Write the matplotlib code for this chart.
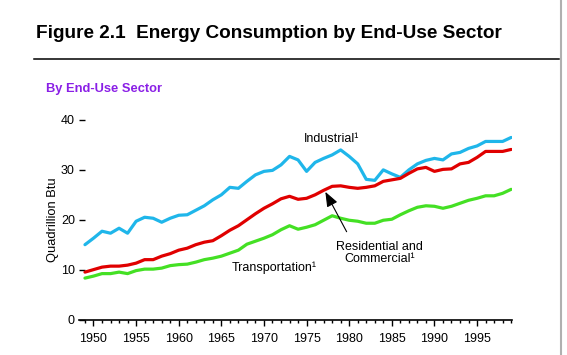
import numpy as np
import matplotlib.pyplot as plt
from matplotlib.lines import Line2D

plt.rcParams['font.family'] = ['Liberation Sans', 'DejaVu Sans']

years = np.arange(1949, 2000)

# quadrillion Btu
industrial = [15.0, 16.3, 17.7, 17.3, 18.3, 17.3, 19.7, 20.5, 20.3, 19.5,
              20.3, 20.9, 21.0, 21.9, 22.8, 24.0, 25.0, 26.5, 26.3, 27.7,
              29.0, 29.7, 29.9, 31.0, 32.7, 32.0, 29.7, 31.5, 32.3, 33.0,
              34.0, 32.7, 31.2, 28.1, 27.9, 30.0, 29.2, 28.5, 30.0, 31.2,
              31.9, 32.3, 32.0, 33.2, 33.5, 34.3, 34.8, 35.7, 35.7, 35.7,
              36.5]
res_comm = [9.5, 10.0, 10.5, 10.7, 10.7, 10.9, 11.3, 12.0, 12.0, 12.7,
            13.2, 13.9, 14.3, 15.0, 15.5, 15.8, 16.8, 17.9, 18.8, 20.0,
            21.2, 22.3, 23.2, 24.2, 24.7, 24.1, 24.3, 25.0, 25.9, 26.7,
            26.8, 26.5, 26.3, 26.5, 26.8, 27.7, 28.0, 28.3, 29.3, 30.2,
            30.5, 29.7, 30.1, 30.2, 31.2, 31.5, 32.5, 33.7, 33.7, 33.7,
            34.1]
transport = [8.3, 8.7, 9.2, 9.2, 9.5, 9.2, 9.8, 10.1, 10.1, 10.3,
             10.8, 11.0, 11.1, 11.5, 12.0, 12.3, 12.7, 13.3, 13.9, 15.1,
             15.7, 16.3, 17.0, 18.0, 18.8, 18.1, 18.5, 19.0, 19.9, 20.8,
             20.3, 19.9, 19.7, 19.3, 19.3, 19.9, 20.1, 21.0, 21.8, 22.5,
             22.8, 22.7, 22.3, 22.7, 23.3, 23.9, 24.3, 24.8, 24.8, 25.3,
             26.1]

W, H = 567, 355
fig = plt.figure(figsize=(W / 100, H / 100), dpi=100)
ax = fig.add_axes([79 / W, 1 - 319.5 / H, 433 / W, 199.5 / H])

ax.plot(years, industrial, color='#1fb6ea', lw=2.3, solid_capstyle='round')
ax.plot(years, res_comm, color='#e00000', lw=2.3, solid_capstyle='round')
ax.plot(years, transport, color='#44e024', lw=2.3, solid_capstyle='round')

ax.set_xlim(1948.3, 1999.1)
ax.set_ylim(0, 40)
for s in ['top', 'right', 'left']:
    ax.spines[s].set_visible(False)
ax.spines['bottom'].set_linewidth(1.2)

ax.set_xticks(range(1950, 1999, 5))
ax.set_xticks(range(1949, 2000), minor=True)
ax.set_yticks([0, 10, 20, 30, 40])
ax.tick_params(axis='x', which='major', direction='out', length=4, width=1, pad=6, labelsize=9)
ax.tick_params(axis='x', which='minor', direction='out', length=2.5, width=1)
ax.tick_params(axis='y', direction='in', length=4.5, width=1, pad=3, labelsize=9)
ax.set_ylabel('Quadrillion Btu', fontsize=9.3, labelpad=1)

ax.text(1977.9, 36.2, 'Industrial¹', fontsize=9, ha='center', va='center')
ax.text(1971.2, 10.4, 'Transportation¹', fontsize=9, ha='center', va='center')
ax.text(1983.6, 13.3, 'Residential and\nCommercial¹', fontsize=9, ha='center', va='center',
        linespacing=0.95)
ax.annotate('', xy=(1977.2, 25.6), xytext=(1979.7, 17.6),
            arrowprops=dict(arrowstyle='-|>,head_length=0.9,head_width=0.35',
                            color='black', lw=0.8, shrinkA=0, shrinkB=0))

fig.text(36 / W, 1 - 38.3 / H, 'Figure 2.1  Energy Consumption by End-Use Sector',
         fontsize=13.7, fontweight='bold', va='baseline', ha='left')
fig.text(46 / W, 1 - 92.3 / H, 'By End-Use Sector', fontsize=9.3, fontweight='bold',
         color='#8a1fe6', va='baseline', ha='left')
fig.add_artist(Line2D([34 / W, 559 / W], [1 - 59.3 / H] * 2, color='black', lw=1.1))
fig.add_artist(Line2D([561 / W, 561 / W], [0, 1], color='#b0b0b0', lw=1.5))

fig.savefig('out.png', dpi=100)
